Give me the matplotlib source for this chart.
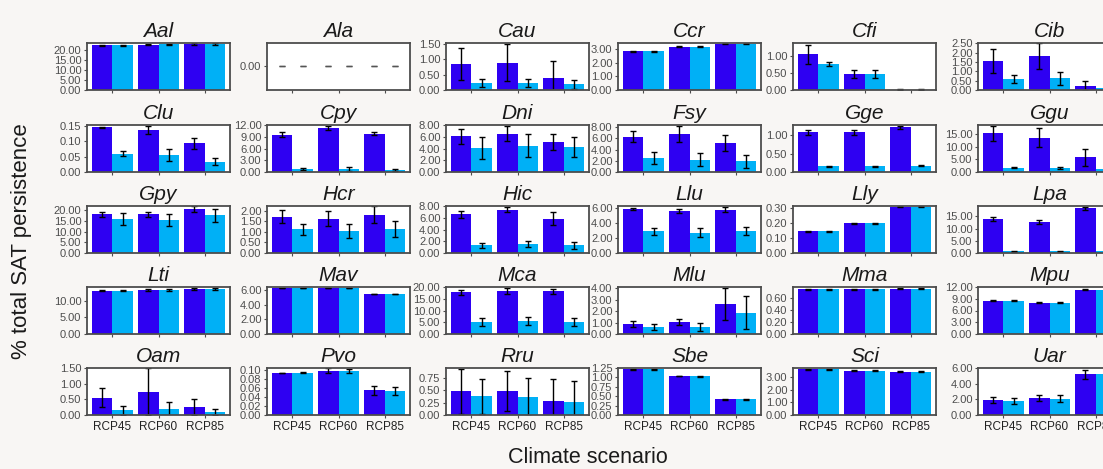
import numpy as np
import matplotlib
matplotlib.use("Agg")
import matplotlib.pyplot as plt

plt.rcParams['font.family'] = ['Liberation Sans', 'DejaVu Sans']

# scenarios on the x axis
scenarios = ["RCP45", "RCP60", "RCP85"]

# species panels, row by row
species = ["Aal", "Ala", "Cau", "Ccr", "Cfi", "Cib",
           "Clu", "Cpy", "Dni", "Fsy", "Gge", "Ggu",
           "Gpy", "Hcr", "Hic", "Llu", "Lly", "Lpa",
           "Lti", "Mav", "Mca", "Mlu", "Mma", "Mpu",
           "Oam", "Pvo", "Rru", "Sbe", "Sci", "Uar"]

# dark bars (first series) mean and error
dark_val = [[22.5, 22.8, 23.0], [0, 0, 0], [0.85, 0.88, 0.40], [2.85, 3.20, 3.40], [1.05, 0.47, 0.01], [1.55, 1.80, 0.20],
            [0.145, 0.137, 0.093], [9.6, 11.4, 9.8], [6.1, 6.5, 5.1], [6.3, 6.8, 5.2], [1.08, 1.08, 1.22], [15.3, 13.6, 5.8],
            [18.0, 18.0, 20.5], [1.72, 1.62, 1.80], [6.6, 7.4, 5.8], [5.9, 5.6, 5.8], [0.145, 0.200, 0.310], [14.0, 12.7, 18.3],
            [13.0, 13.2, 13.6], [6.3, 6.3, 5.5], [17.8, 18.5, 18.2], [0.90, 1.05, 2.65], [0.75, 0.75, 0.76], [8.5, 8.0, 11.3],
            [0.55, 0.75, 0.25], [0.093, 0.098, 0.055], [0.48, 0.48, 0.28], [1.22, 1.04, 0.42], [3.6, 3.5, 3.4], [1.9, 2.2, 5.2]]
dark_err = [[0.3, 0.3, 0.4], [0, 0, 0], [0.52, 0.60, 0.55], [0.03, 0.03, 0.04], [0.28, 0.12, 0.01], [0.65, 0.70, 0.28],
            [0.002, 0.012, 0.018], [0.6, 0.5, 0.4], [1.3, 1.3, 1.3], [1.0, 1.5, 1.5], [0.06, 0.06, 0.04], [3.0, 3.8, 3.4],
            [1.2, 1.0, 1.2], [0.32, 0.35, 0.40], [0.6, 0.4, 1.1], [0.15, 0.30, 0.35], [0.002, 0.002, 0.003], [0.8, 0.8, 0.6],
            [0.2, 0.2, 0.3], [0.05, 0.05, 0.04], [1.0, 1.3, 1.0], [0.25, 0.30, 1.40], [0.01, 0.01, 0.01], [0.1, 0.1, 0.15],
            [0.30, 0.75, 0.25], [0.001, 0.005, 0.010], [0.45, 0.40, 0.45], [0.01, 0.01, 0.01], [0.03, 0.03, 0.03], [0.4, 0.4, 0.6]]

# light bars (second series) mean and error
light_val = [[22.4, 22.9, 23.0], [0, 0, 0], [0.22, 0.22, 0.18], [2.85, 3.20, 3.40], [0.75, 0.48, 0.01], [0.58, 0.62, 0.12],
             [0.060, 0.055, 0.033], [0.7, 0.7, 0.5], [4.1, 4.5, 4.2], [2.5, 2.2, 1.9], [0.16, 0.16, 0.17], [1.6, 1.6, 1.0],
             [15.7, 15.5, 17.5], [1.12, 1.02, 1.12], [1.3, 1.5, 1.3], [2.9, 2.7, 2.9], [0.145, 0.200, 0.310], [0.7, 0.7, 0.9],
             [13.0, 13.2, 13.6], [6.3, 6.3, 5.5], [5.2, 5.5, 5.2], [0.62, 0.60, 1.85], [0.75, 0.75, 0.76], [8.5, 8.0, 11.3],
             [0.15, 0.18, 0.10], [0.094, 0.098, 0.053], [0.38, 0.36, 0.26], [1.22, 1.03, 0.42], [3.6, 3.5, 3.4], [1.8, 2.1, 5.2]]
light_err = [[0.3, 0.3, 0.4], [0, 0, 0], [0.12, 0.12, 0.14], [0.03, 0.03, 0.04], [0.06, 0.12, 0.01], [0.22, 0.35, 0.18],
             [0.009, 0.020, 0.011], [0.3, 0.5, 0.2], [1.9, 1.9, 1.7], [1.1, 1.2, 1.2], [0.015, 0.015, 0.015], [0.2, 0.3, 0.5],
             [2.8, 2.8, 3.2], [0.27, 0.33, 0.38], [0.45, 0.5, 0.6], [0.5, 0.6, 0.55], [0.002, 0.002, 0.003], [0.3, 0.3, 0.3],
             [0.2, 0.2, 0.3], [0.05, 0.05, 0.04], [1.8, 1.8, 1.8], [0.25, 0.35, 1.45], [0.01, 0.01, 0.01], [0.1, 0.1, 0.15],
             [0.15, 0.25, 0.10], [0.001, 0.004, 0.008], [0.35, 0.38, 0.42], [0.01, 0.01, 0.01], [0.03, 0.03, 0.03], [0.4, 0.4, 0.6]]

# y axis: tick step and upper limit per panel
ystep = [5, 1, 0.5, 1, 0.5, 0.5,
         0.05, 3, 2, 2, 0.5, 5,
         5, 0.5, 2, 2, 0.1, 5,
         5, 2, 5, 1, 0.2, 3,
         0.5, 0.02, 0.25, 0.25, 1, 2]
ytop = [23.6, 1, 1.52, 3.46, 1.38, 2.52,
        0.153, 12.1, 8.0, 8.4, 1.28, 18.6,
        21.9, 2.22, 8.0, 6.3, 0.316, 19.2,
        14.1, 6.45, 20.1, 4.1, 0.79, 12.0,
        1.5, 0.104, 0.94, 1.25, 3.7, 6.0]

bg = "#f8f6f4"
c_dark = "#2e00f2"
c_light = "#00b0f6"
grey = "#4d4d4d"

fig = plt.figure(figsize=(11.03, 4.69), dpi=100, facecolor=bg)
W, H = 1103, 469
lefts = [87, 267, 446, 618, 793, 978]
tops = [43, 125, 206, 287, 368]
aw, ah = 143, 47

x = np.arange(len(scenarios))
bw = 0.45

for i, sp in enumerate(species):
    r, c = divmod(i, 6)
    ax = fig.add_axes([lefts[c] / W, 1 - (tops[r] + ah) / H, aw / W, ah / H])
    ax.set_facecolor("white")
    d, de = np.array(dark_val[i]), np.array(dark_err[i])
    l, le = np.array(light_val[i]), np.array(light_err[i])
    ax.bar(x - bw / 2, d, bw, color=c_dark)
    ax.bar(x + bw / 2, l, bw, color=c_light)
    ecol = "#555555" if sp == "Ala" else "black"
    ax.errorbar(x - bw / 2, d, yerr=de, fmt="none", ecolor=ecol, elinewidth=1, capsize=2.5, capthick=1)
    ax.errorbar(x + bw / 2, l, yerr=le, fmt="none", ecolor=ecol, elinewidth=1, capsize=2.5, capthick=1)
    ax.set_xlim(-0.55, 2.55)
    if sp == "Ala":
        ax.set_ylim(-1, 1)
        ax.set_yticks([0])
    else:
        ax.set_ylim(0, ytop[i])
        ax.set_yticks(np.arange(0, ytop[i] + 1e-9, ystep[i]))
    ax.yaxis.set_major_formatter(matplotlib.ticker.FormatStrFormatter("%.2f"))
    ax.set_xticks(x)
    if r == 4:
        ax.set_xticklabels(scenarios)
    else:
        ax.set_xticklabels([])
    ax.tick_params(labelsize=8, colors=grey, length=2.5, width=0.8, pad=1.5)
    ax.tick_params(axis="x", labelcolor="#222222", labelsize=8.5)
    for s in ax.spines.values():
        s.set_color(grey)
        s.set_linewidth(1.3)
    ax.set_title(sp, fontsize=15, style="italic", color="#1a1a1a", pad=4)

fig.text(22 / W, 1 - 241 / H, "% total SAT persistence", rotation=90, ha="center", va="center", fontsize=16, color="#1a1a1a")
fig.text(588 / W, 1 - 457 / H, "Climate scenario", ha="center", va="center", fontsize=15.5, color="#1a1a1a")

fig.savefig("out.png", dpi=100, facecolor=bg)
